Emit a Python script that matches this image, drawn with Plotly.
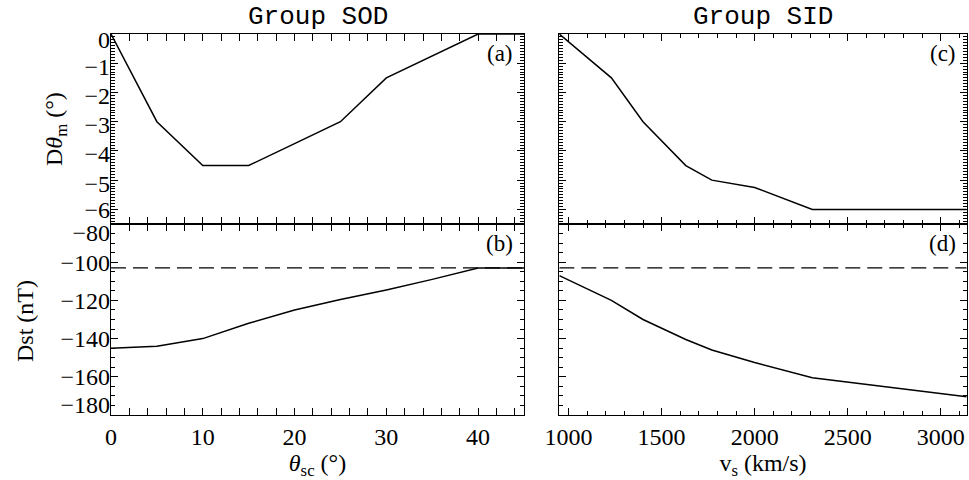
import plotly.graph_objects as go

# Group SOD: variation with separation angle theta_sc (deg)
theta_sc = [0, 5, 10, 15, 20, 25, 30, 35, 40, 45]
dtheta_sod = [0, -3.0, -4.5, -4.5, -3.75, -3.0, -1.5, -0.75, 0, 0]
dst_sod = [-145, -144, -140, -132, -125, -119.5, -114.5, -109, -103, -103]

# Group SID: variation with shock speed v_s (km/s)
v_s = [950, 1230, 1400, 1630, 1770, 2000, 2310, 3140]
dtheta_sid = [0, -1.5, -3.0, -4.5, -5.0, -5.25, -6.0, -6.0]
dst_sid = [-107, -120, -130, -140.5, -146, -152.5, -160.5, -170.5]

# Reference Dst level (dashed)
dst_ref = -103

group_titles = ["Group SOD", "Group SID"]
panel_tags = ["(a)", "(b)", "(c)", "(d)"]

# y tick labels: inner ones sit on their ticks, edge ones are nudged inwards
dst_inner = [-160, -140, -120, -100]
dth_inner = [-5, -4, -3, -2, -1]
dth_low = [-6]

SERIF = "Liberation Serif"
MONO = "Liberation Mono"
W, H = 969, 480

# panel geometry in paper fractions
XL = [111 / W, 524 / W]
XR = [559.3 / W, 966.7 / W]
Y_TOP = [1 - 224 / H, 1 - 34 / H]
Y_BOT = [1 - 415 / H, 1 - 224 / H]
DST_RANGE = [-180, -80]
DTH_RANGE = [-6.5, 0]

fig = go.Figure()
line = dict(color="black", width=1.5)

# x/y : bottom-left, x2/y2 : top-left, x3/y3 : bottom-right, x4/y4 : top-right
fig.add_trace(go.Scatter(x=theta_sc, y=dst_sod, mode="lines", line=line, xaxis="x", yaxis="y"))
fig.add_trace(go.Scatter(x=theta_sc, y=dtheta_sod, mode="lines", line=line, xaxis="x2", yaxis="y2"))
fig.add_trace(go.Scatter(x=v_s, y=dst_sid, mode="lines", line=line, xaxis="x3", yaxis="y3"))
fig.add_trace(go.Scatter(x=v_s, y=dtheta_sid, mode="lines", line=line, xaxis="x4", yaxis="y4"))

dash = dict(color="black", width=1.3, dash="15px,7px")
fig.add_trace(go.Scatter(x=[theta_sc[0], theta_sc[-1]], y=[dst_ref, dst_ref], mode="lines",
                         line=dash, xaxis="x", yaxis="y"))
fig.add_trace(go.Scatter(x=[v_s[0], v_s[-1]], y=[dst_ref, dst_ref], mode="lines",
                         line=dash, xaxis="x3", yaxis="y3"))

# empty traces so the label-only axes get rendered
for ya, xa in [("y5", "x"), ("y6", "x"), ("y7", "x2"), ("y8", "x"), ("y9", "x2"),
               ("y10", "x2")]:
    fig.add_trace(go.Scatter(x=[None], y=[None], mode="lines", xaxis=xa, yaxis=ya,
                             hoverinfo="skip"))

tickfont = dict(family=SERIF, size=24, color="black")
titlefont = dict(family=SERIF, size=24, color="black")


def frame(**kw):
    d = dict(showline=True, linecolor="black", linewidth=1, mirror="allticks",
             ticks="inside", ticklen=7, tickwidth=1, tickcolor="black",
             showgrid=False, zeroline=False, tickfont=tickfont, automargin=False)
    d.update(kw)
    return d


def minor(step):
    return dict(dtick=step, ticks="inside", ticklen=4, tickwidth=1, tickcolor="black")


def minus(v):
    s = f"{v:g}"
    return s.replace("-", "\u2212")


def label_axis(over, anchor, rng, vals, shift=0):
    # tick labels only; the frame and tick marks come from the main axis
    return dict(overlaying=over, anchor=anchor, side="left", range=rng, tickmode="array",
                tickvals=vals, ticktext=[minus(v) for v in vals], ticklabelshift=shift,
                ticks="", showline=False, showgrid=False, zeroline=False, tickfont=tickfont,
                automargin=False)


fig.update_layout(
    width=W, height=H,
    margin=dict(l=0, r=0, t=0, b=0),
    paper_bgcolor="white", plot_bgcolor="white",
    showlegend=False,
    xaxis=frame(domain=XL, range=[0, 45], dtick=10, tick0=0, minor=minor(2), anchor="y",
                title=dict(text="<i>θ</i><sub>sc</sub> (°)", font=titlefont, standoff=4)),
    yaxis=frame(domain=Y_BOT, range=DST_RANGE, dtick=20, tick0=0, minor=minor(5), anchor="x",
                showticklabels=False),
    xaxis2=frame(domain=XL, range=[0, 45], dtick=10, tick0=0, minor=minor(2), anchor="y2",
                 showticklabels=False),
    yaxis2=frame(domain=Y_TOP, range=DTH_RANGE, dtick=1, tick0=0, minor=minor(0.1),
                 anchor="x2", showticklabels=False),
    xaxis3=frame(domain=XR, range=[950, 3140], dtick=500, tick0=1000, minor=minor(100),
                 anchor="y3",
                 title=dict(text="v<sub>s</sub> (km/s)", font=titlefont, standoff=4)),
    yaxis3=frame(domain=Y_BOT, range=DST_RANGE, dtick=20, tick0=0, minor=minor(5), anchor="x3",
                 showticklabels=False),
    xaxis4=frame(domain=XR, range=[950, 3140], dtick=500, tick0=1000, minor=minor(100),
                 anchor="y4", showticklabels=False),
    yaxis4=frame(domain=Y_TOP, range=DTH_RANGE, dtick=1, tick0=0, minor=minor(0.1),
                 anchor="x4", showticklabels=False),
    yaxis5=label_axis("y", "x", DST_RANGE, [DST_RANGE[1]], 9),
    yaxis6=label_axis("y", "x", DST_RANGE, [DST_RANGE[0]], -10),
    yaxis7=label_axis("y2", "x2", DTH_RANGE, [DTH_RANGE[1]], 6),
    yaxis8=label_axis("y", "x", DST_RANGE, dst_inner),
    yaxis9=label_axis("y2", "x2", DTH_RANGE, dth_inner, 3),
    yaxis10=label_axis("y2", "x2", DTH_RANGE, dth_low, 0),
)

# y-axis titles
fig.add_annotation(text="D<i>θ</i><sub>m</sub> (°)", xref="paper", yref="paper",
                   x=56 / W, y=sum(Y_TOP) / 2, xanchor="center", yanchor="middle",
                   textangle=-90, showarrow=False, font=titlefont)
fig.add_annotation(text="Dst (nT)", xref="paper", yref="paper",
                   x=25 / W, y=1 - 321 / H, xanchor="center", yanchor="middle",
                   textangle=-90, showarrow=False, font=titlefont)

# group titles above the columns
for i, xd in enumerate([XL, XR]):
    fig.add_annotation(text=group_titles[i], xref="paper", yref="paper",
                       x=(xd[0] + xd[1]) / 2, y=1 - 17 / H, xanchor="center", yanchor="middle",
                       showarrow=False, font=dict(family=MONO, size=26, color="black"))

# panel tags in the upper right corners
for tag, (xa, ya) in zip(panel_tags, [("x2", "y2"), ("x", "y"), ("x4", "y4"), ("x3", "y3")]):
    fig.add_annotation(text=tag, xref=f"{xa} domain", yref=f"{ya} domain", x=1, y=1,
                       xanchor="right", yanchor="top", xshift=-9, yshift=-5, showarrow=False,
                       font=dict(family=SERIF, size=23, color="black"))

fig.write_html("out.html")
